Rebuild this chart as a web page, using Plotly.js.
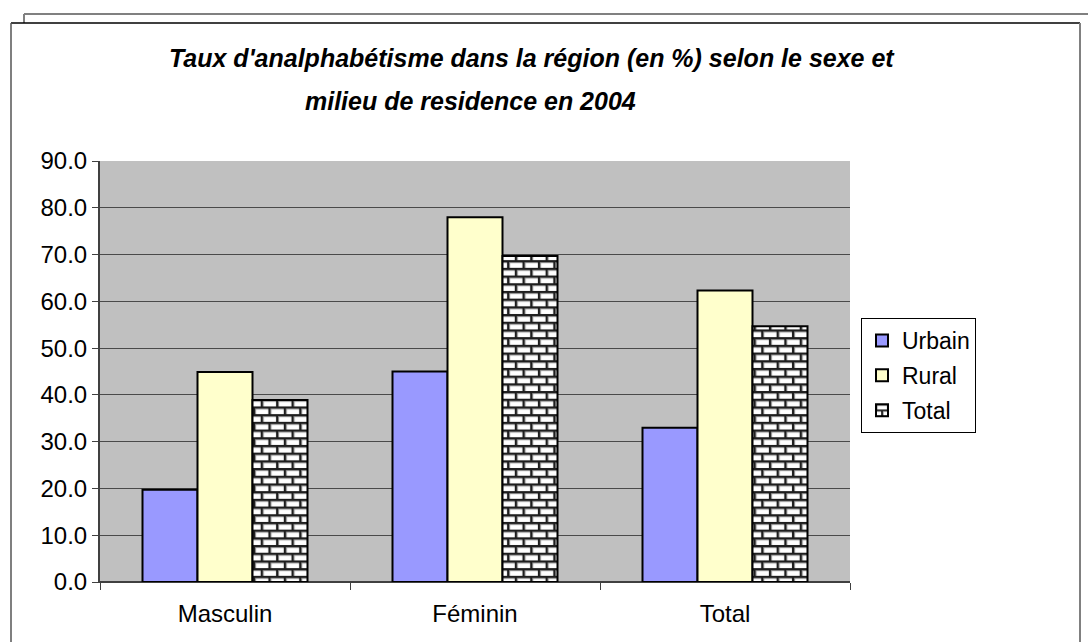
<!DOCTYPE html>
<html>
<head>
<meta charset="utf-8">
<script src="https://cdn.plot.ly/plotly-3.0.1.min.js"></script>
<style>
  html, body { margin: 0; padding: 0; background: #ffffff; }
  #chart { width: 1088px; height: 642px; }
</style>
</head>
<body>
<div id="chart"></div>
<script>
// ---- Data ----
const categories = ["Masculin", "Féminin", "Total"];
const urbain = [19.7, 45.0, 33.0];
const rural = [44.9, 78.0, 62.3];
const total = [38.9, 69.7, 54.7];
const seriesNames = ["Urbain", "Rural", "Total"];
const titleLine1 = "Taux d'analphabétisme dans la région (en %) selon le sexe et";
const titleLine2 = "milieu de residence en 2004";

const FONT = "Liberation Sans, Arial, sans-serif";

// pixel -> paper helpers (plot area: x 100..850, y 161..582)
const L = 100, R = 850, T = 161, B = 582;
const px = v => (v - L) / (R - L);
const py = v => (B - v) / (B - T);

const traces = [
  {
    type: "bar", name: seriesNames[0], x: categories, y: urbain,
    marker: { color: "#9999ff", line: { color: "#000000", width: 2 } },
    legendgroup: "a"
  },
  {
    type: "bar", name: seriesNames[1], x: categories, y: rural,
    marker: { color: "#ffffcc", line: { color: "#000000", width: 2 } },
    legendgroup: "b"
  },
  {
    type: "bar", name: seriesNames[2], x: categories, y: total,
    marker: {
      color: "#ffffff",
      line: { color: "#000000", width: 2 },
      pattern: { shape: "+", fgcolor: "#222222", bgcolor: "#ffffff", size: 8, solidity: 0.2 }
    },
    legendgroup: "c"
  }
];

const layout = {
  width: 1088, height: 642,
  margin: { l: L, r: 1088 - R, t: T, b: 642 - B, pad: 0 },
  paper_bgcolor: "#ffffff",
  plot_bgcolor: "#c0c0c0",
  font: { family: FONT, size: 24, color: "#000000" },
  showlegend: true,
  barmode: "group",
  bargap: 0.34,
  bargroupgap: 0,
  xaxis: {
    type: "category",
    showline: true, linecolor: "#404040", linewidth: 1,
    ticks: "outside", tickson: "boundaries", ticklen: 7, tickcolor: "#404040",
    ticklabelstandoff: 10,
    tickfont: { family: FONT, size: 24, color: "#000000" },
    showgrid: false, zeroline: false, fixedrange: true
  },
  yaxis: {
    range: [0, 90], dtick: 10, tick0: 0, tickformat: ".1f",
    showline: true, linecolor: "#404040", linewidth: 2,
    ticks: "outside", ticklen: 6, tickcolor: "#404040",
    tickfont: { family: FONT, size: 24, color: "#000000" },
    showgrid: true, gridcolor: "#4a4a4a", gridwidth: 1.2,
    zeroline: true, zerolinecolor: "#404040", zerolinewidth: 1.5,
    fixedrange: true
  },
  legend: {
    x: px(861), y: py(318), xanchor: "left", yanchor: "top",
    bgcolor: "#ffffff", bordercolor: "#000000", borderwidth: 1,
    font: { family: FONT, size: 23, color: "#000000" },
    traceorder: "grouped", tracegroupgap: 2,
    itemwidth: 30,
    itemclick: false, itemdoubleclick: false
  },
  annotations: [
    {
      text: "<b><i>" + titleLine1 + "</i></b>",
      xref: "paper", yref: "paper", x: px(532), y: py(58),
      xanchor: "center", yanchor: "middle", showarrow: false,
      font: { family: FONT, size: 25, color: "#000000" }
    },
    {
      text: "<b><i>" + titleLine2 + "</i></b>",
      xref: "paper", yref: "paper", x: px(470), y: py(101),
      xanchor: "center", yanchor: "middle", showarrow: false,
      font: { family: FONT, size: 25, color: "#000000" }
    }
  ],
  shapes: [
    // back (gray) frame
    { type: "line", xref: "paper", yref: "paper", x0: px(24), x1: px(1090), y0: py(14), y1: py(14),
      line: { color: "#808080", width: 2 } },
    { type: "line", xref: "paper", yref: "paper", x0: px(24), x1: px(24), y0: py(14), y1: py(23),
      line: { color: "#808080", width: 2 } },
    // front frame
    { type: "line", xref: "paper", yref: "paper", x0: px(11), x1: px(1080), y0: py(23), y1: py(23),
      line: { color: "#000000", width: 1.5 } },
    { type: "line", xref: "paper", yref: "paper", x0: px(11), x1: px(11), y0: py(23), y1: py(650),
      line: { color: "#555555", width: 1.5 } },
    { type: "line", xref: "paper", yref: "paper", x0: px(1080), x1: px(1080), y0: py(23), y1: py(650),
      line: { color: "#808080", width: 2 } }
  ]
};

Plotly.newPlot("chart", traces, layout, { displayModeBar: false, staticPlot: true }).then(function () {
  // Replace the '+' fill pattern by a brick pattern
  const NS = "http://www.w3.org/2000/svg";
  const pats = document.querySelectorAll("#chart pattern");
  pats.forEach(function (p) {
    const W = 15.4, H = 15.4;
    p.setAttribute("width", W);
    p.setAttribute("height", H);
    p.setAttribute("patternUnits", "userSpaceOnUse");
    while (p.firstChild) p.removeChild(p.firstChild);
    const add = (x, y, w, h, fill) => {
      const r = document.createElementNS(NS, "rect");
      r.setAttribute("x", x); r.setAttribute("y", y);
      r.setAttribute("width", w); r.setAttribute("height", h);
      r.setAttribute("fill", fill);
      p.appendChild(r);
    };
    add(0, 0, W, H, "#1e1e1e");
    const bw = 13.2, bh = 5.6;
    const bricks = [[1.1, 1.1], [-6.6, 8.8], [8.8, 8.8]];
    bricks.forEach(function (b) {
      add(b[0], b[1], bw, bh, "#9a9a9a");
      add(b[0] + 1, b[1] + 1, bw - 1, bh - 1, "#ffffff");
    });
  });
});
</script>
</body>
</html>
